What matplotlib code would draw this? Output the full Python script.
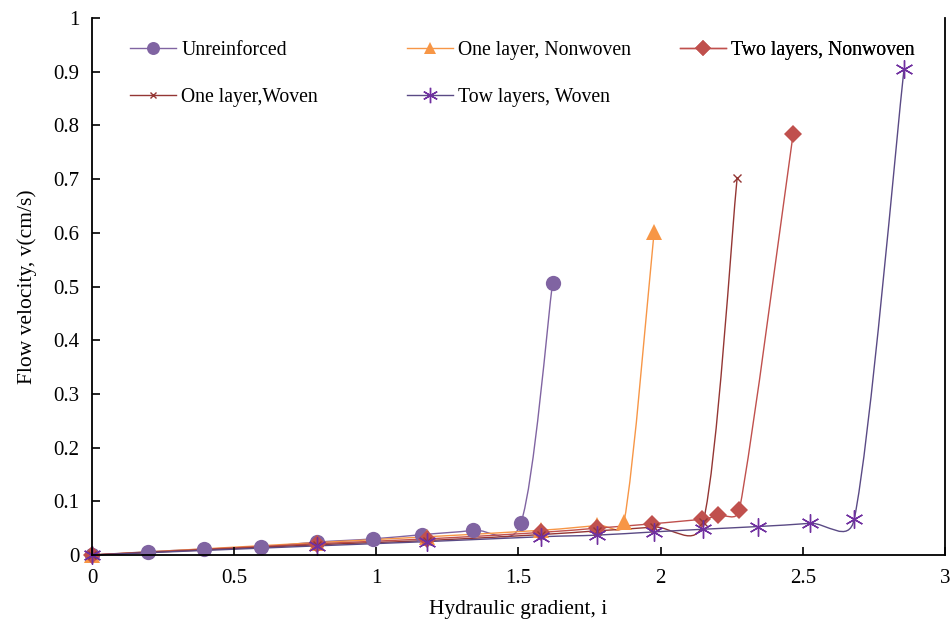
import numpy as np
import matplotlib
matplotlib.use('Agg')
import matplotlib.pyplot as plt
from matplotlib.path import Path
from matplotlib.patches import PathPatch
from matplotlib.lines import Line2D
from matplotlib.ticker import FuncFormatter, MultipleLocator

plt.rcParams['font.family'] = ['Liberation Serif', 'DejaVu Serif']

# hydraulic gradient i / flow velocity v (cm/s)
unr_i = [0, 0.198, 0.394, 0.593, 0.79, 0.987, 1.162, 1.341, 1.509, 1.62]
unr_v = [0, 0.006, 0.011, 0.015, 0.024, 0.030, 0.038, 0.046, 0.060, 0.507]

nw1_i = [0, 0.79, 1.18, 1.578, 1.775, 1.871, 1.977]
nw1_v = [0, 0.023, 0.034, 0.046, 0.055, 0.061, 0.601]

nw2_i = [0, 0.79, 1.18, 1.578, 1.775, 1.968, 2.147, 2.203, 2.277, 2.466]
nw2_v = [0, 0.021, 0.030, 0.042, 0.050, 0.058, 0.067, 0.074, 0.084, 0.784]

w1_i = [0, 0.79, 1.18, 1.578, 1.775, 1.975, 2.15, 2.269]
w1_v = [0, 0.019, 0.027, 0.038, 0.045, 0.052, 0.062, 0.702]

w2_i = [0, 0.79, 1.18, 1.578, 1.775, 1.975, 2.15, 2.341, 2.525, 2.681, 2.856]
w2_v = [0, 0.017, 0.025, 0.034, 0.037, 0.043, 0.048, 0.053, 0.059, 0.067, 0.905]

series = [
    ('Unreinforced', unr_i, unr_v, '#8064A2', '#8064A2', 'o', 11),
    ('One layer, Nonwoven', nw1_i, nw1_v, '#F79646', '#F79646', '^', 11),
    ('Two layers, Nonwoven', nw2_i, nw2_v, '#C0504D', '#C0504D', 'D', 9),
    ('One layer,Woven', w1_i, w1_v, '#943634', '#943634', 'x', 5.5),
    ('Tow layers, Woven', w2_i, w2_v, '#5A4A85', '#7030A0', (6, 2, 0), 13),
]

XMAX, YMAX = 3.0, 1.0


def smooth_path(x, y, sx, sy):
    """Bezier through the points, tangents capped relative to the segment (scaled space)."""
    p = np.column_stack([np.asarray(x) * sx, np.asarray(y) * sy])
    n = len(p)
    verts = [p[0]]
    codes = [Path.MOVETO]
    for k in range(n - 1):
        p0, p1 = p[max(k - 1, 0)], p[k]
        p2, p3 = p[k + 1], p[min(k + 2, n - 1)]
        seg = np.hypot(*(p2 - p1))
        t1 = (p2 - p0) / 6
        t2 = (p3 - p1) / 6
        for t in (t1, t2):
            L = np.hypot(*t)
            if L > seg * 0.6:
                t *= (seg * 0.6) / L
        verts += [p1 + t1, p2 - t2, p2]
        codes += [Path.CURVE4] * 3
    verts = np.array(verts) / [sx, sy]
    return Path(verts, codes)


fig = plt.figure(figsize=(9.52, 6.22), dpi=100)
ax = fig.add_axes([0.0966, 0.1077, 0.8960, 0.8633])
ax.set_xlim(0, XMAX)
ax.set_ylim(0, YMAX)

bb = ax.get_window_extent()
sx, sy = bb.width / XMAX, bb.height / YMAX

handles = []
for label, xi, vi, lc, mc, mk, ms in series:
    ax.add_patch(PathPatch(smooth_path(xi, vi, sx, sy), fill=False,
                           edgecolor=lc, lw=1.0, clip_on=False))
    if mk == 'x' or isinstance(mk, tuple):
        mkw = dict(markeredgewidth=1.0)
    else:
        mkw = dict(markeredgewidth=0)
    ax.plot(xi, vi, ls='none', marker=mk, ms=ms, color=mc, clip_on=False, **mkw)
    handles.append(Line2D([], [], color=lc, lw=1.0, marker=mk, ms=ms * 0.85,
                          markerfacecolor=mc, markeredgecolor=mc, label=label, **mkw))

ax.xaxis.set_major_locator(MultipleLocator(0.5))
ax.yaxis.set_major_locator(MultipleLocator(0.1))
fmt = FuncFormatter(lambda v, _: f'{v:g}')
ax.xaxis.set_major_formatter(fmt)
ax.yaxis.set_major_formatter(fmt)
ax.tick_params(direction='in', length=6, width=1.2, labelsize=15, pad=9)
ax.tick_params(axis='x', pad=10)
ax.spines['top'].set_visible(False)
for s in ('left', 'bottom', 'right'):
    ax.spines[s].set_linewidth(1.3)

ax.set_xlabel('Hydraulic gradient, i', fontsize=15.5, labelpad=9)
ax.set_ylabel('Flow velocity, v(cm/s)', fontsize=15.5, labelpad=12)

# legend: three columns at fixed positions
cols = [([handles[0], handles[3]], 0.0446),
        ([handles[1], handles[4]], 0.369),
        ([handles[2]], 0.689)]
for hs, xpos in cols:
    leg = ax.legend(handles=hs, loc='upper left', bbox_to_anchor=(xpos, 0.958),
                    frameon=False, fontsize=14.2, borderpad=0, borderaxespad=0,
                    handlelength=2.35, handletextpad=0.25, labelspacing=1.45)
    ax.add_artist(leg)

fig.savefig('out.png', dpi=100)
